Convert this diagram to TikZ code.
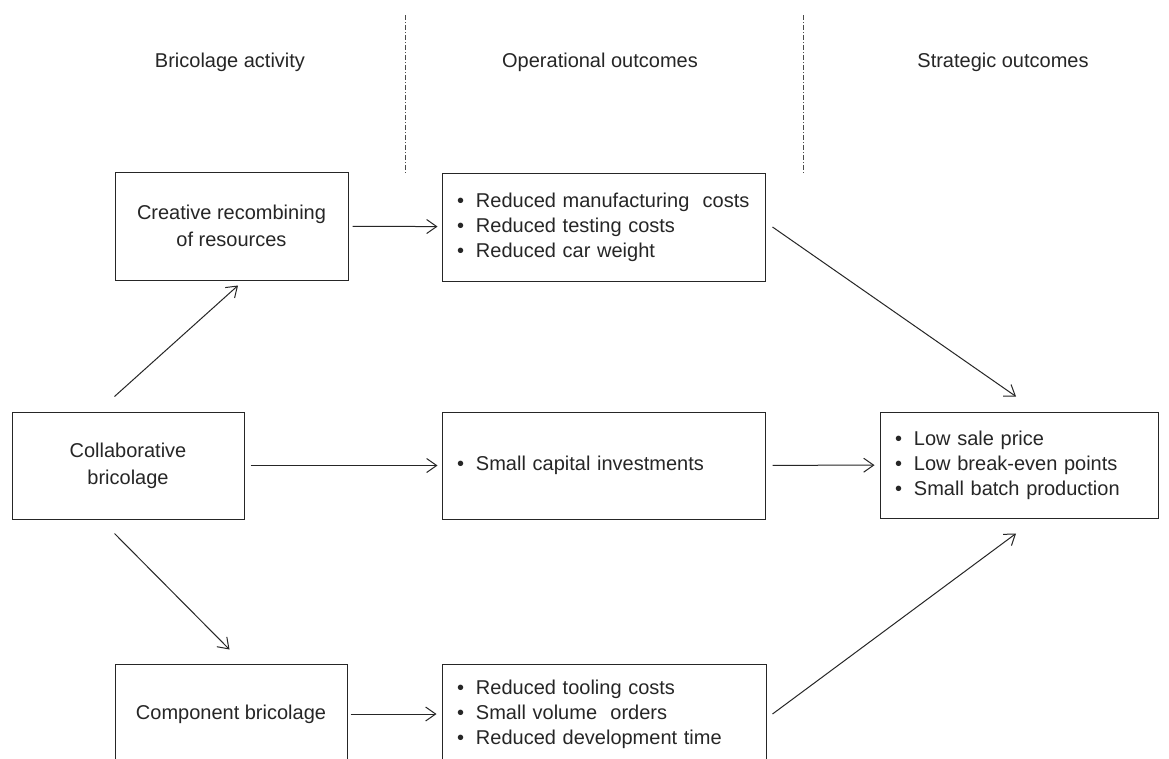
\documentclass[tikz,border=0pt]{standalone}
\usepackage{fontspec}
\setmainfont{Liberation Sans}
\usetikzlibrary{arrows.meta}
\newcommand{\itm}{\makebox[19pt][l]{\textbullet}}
\tikzset{
	box/.style 2 args={draw=black!85,line width=1pt,minimum width=#1,minimum height=#2,inner sep=0pt,align=center,text=black!85,font=\fontsize{20}{27}\selectfont},
	listbox/.style 2 args={draw=black!85,line width=1pt,text width=#1,minimum height=#2,inner xsep=15pt,inner ysep=0pt,align=left,text=black!85,font=\fontsize{20}{25}\selectfont},
	head/.style={text=black!85,font=\fontsize{20}{25}\selectfont},
	arr/.style={-{Straight Barb[length=10pt,width=14pt]},line width=1pt,draw=black!85},
	sep/.style={line width=0.6pt,draw=black!70,dash pattern=on 5pt off 2pt on 1pt off 2pt}
}
\begin{document}
\begin{tikzpicture}[x=1pt,y=-1pt]
	\path[use as bounding box,clip] (0,0) rectangle (1169,758);
	\fill[white] (0,0) rectangle (1169,758);

	\node [head] (h1) at (230,62) {Bricolage activity};
	\node [head] (h2) at (600,62) {Operational outcomes};
	\node [head] (h3) at (1003,62) {Strategic outcomes};

	\coordinate (s1a) at (405,15);
	\coordinate (s1b) at (405,173);
	\coordinate (s2a) at (803,15);
	\coordinate (s2b) at (803,173);
	\draw[sep] (s1a) -- (s1b);
	\draw[sep] (s2a) -- (s2b);

	\node [box={233pt}{108pt}] (creative) at (231.5,226) {Creative recombining\\of resources};
	\node [box={232pt}{107pt}] (collab) at (128,465.5) {Collaborative\\bricolage};
	\node [box={232pt}{100pt}] (component) at (231,714) {Component bricolage};

	\node [listbox={293pt}{108pt}] (opstop) at (603.5,227) {\itm Reduced manufacturing\ \ costs\\\itm Reduced testing costs\\\itm Reduced car weight};
	\node [listbox={293pt}{107pt}] (opsmid) at (603.5,465.5) {\itm Small capital investments};
	\node [listbox={294pt}{100pt}] (opsbot) at (604,714) {\itm Reduced tooling costs\\\itm Small volume\ \ orders\\\itm Reduced development time};

	\node [listbox={248pt}{106pt}] (strat) at (1019,465) {\itm Low sale price\\\itm Low break-even points\\\itm Small batch production};

	\draw[arr,shorten <=4pt,shorten >=4pt] (creative) -- (opstop);
	\draw[arr,shorten <=6pt,shorten >=4pt] (collab) -- (opsmid);
	\draw[arr,shorten <=7pt,shorten >=5pt] (opsmid) -- (strat);
	\draw[arr,shorten <=3pt,shorten >=5pt] (component) -- (opsbot);

	\draw[arr] ([shift={(103pt,15pt)}]collab.north west) -- ([shift={(6.5pt,-5pt)}]creative.south);
	\draw[arr] ([shift={(103pt,-14pt)}]collab.south west) -- ([shift={(-1.5pt,14pt)}]component.north);
	\draw[arr] ([xshift=7pt]opstop.east) -- ([shift={(-3pt,15pt)}]strat.north);
	\draw[arr] ([xshift=6pt]opsbot.east) -- ([shift={(-3pt,-15pt)}]strat.south);
\end{tikzpicture}
\end{document}
